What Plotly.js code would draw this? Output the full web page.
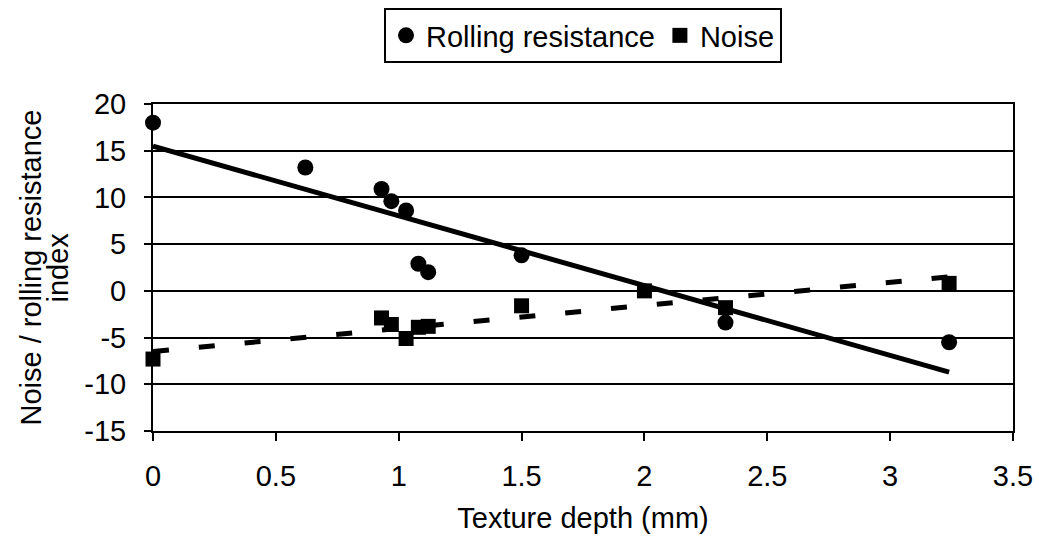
<!DOCTYPE html>
<html>
<head>
<meta charset="utf-8">
<script src="https://cdn.plot.ly/plotly-3.0.1.min.js"></script>
<style>html,body{margin:0;padding:0;background:#fff;}#chart{width:1039px;height:538px;}</style>
</head>
<body>
<div id="chart"></div>
<script>
// Texture depth (mm)
const rollingX = [0, 0.62, 0.93, 0.97, 1.03, 1.08, 1.12, 1.5, 2.33, 3.24];
const rollingY = [18, 13.2, 10.9, 9.6, 8.6, 2.9, 2.0, 3.8, -3.4, -5.5];
const noiseX = [0, 0.93, 0.97, 1.03, 1.08, 1.12, 1.5, 2.0, 2.33, 3.24];
const noiseY = [-7.3, -2.9, -3.6, -5.1, -3.9, -3.8, -1.6, 0.0, -1.8, 0.8];
// trend line end values
const trendX = [0, 3.24];
const rollingTrend = [15.5, -8.7];
const noiseTrend = [-6.5, 1.5];
const xTicks = [0, 0.5, 1, 1.5, 2, 2.5, 3, 3.5];
const xTickText = ['0', '0.5', '1', '1.5', '2', '2.5', '3', '3.5'];
const yTicks = [-15, -10, -5, 0, 5, 10, 15, 20];
const yTickText = ['-15', '-10', '-5', '0', '5', '10', '15', '20'];
const yTitleLines = ['Noise / rolling resistance', 'index'];

const font = 'Liberation Sans, Arial, sans-serif';
const fs = 29;
const traces = [
  {x: trendX, y: rollingTrend, mode: 'lines', line: {color: '#000', width: 5}, showlegend: false, hoverinfo: 'skip'},
  {x: trendX, y: noiseTrend, mode: 'lines', line: {color: '#000', width: 5, dash: '16px,30px'}, showlegend: false, hoverinfo: 'skip'},
  {x: rollingX, y: rollingY, mode: 'markers', name: 'Rolling resistance', cliponaxis: false,
   marker: {symbol: 'circle', size: 16, color: '#000'}},
  {x: noiseX, y: noiseY, mode: 'markers', name: 'Noise', cliponaxis: false,
   marker: {symbol: 'square', size: 15, color: '#000'}}
];
const layout = {
  width: 1039, height: 538,
  margin: {l: 153, r: 26, t: 104, b: 107, autoexpand: false},
  paper_bgcolor: '#fff', plot_bgcolor: '#fff',
  font: {family: font, size: fs, color: '#000'},
  showlegend: true,
  legend: {orientation: 'h', x: 0.5, xanchor: 'center', yref: 'container', y: 1 - 8 / 538, yanchor: 'top',
    bordercolor: '#000', borderwidth: 2, font: {family: font, size: 29, color: '#000'},
    itemwidth: 30, tracegroupgap: 0},
  xaxis: {range: [0, 3.5], tickvals: xTicks, ticktext: xTickText, showgrid: false, zeroline: false,
    showline: true, linecolor: '#000', linewidth: 2, mirror: true, ticks: 'outside', ticklen: 8, tickcolor: '#000', tickwidth: 2,
    tickfont: {family: font, size: fs, color: '#000'}, ticklabelstandoff: 10, automargin: false,
    title: {text: 'Texture depth (mm)', font: {family: font, size: fs, color: '#000'}, standoff: 17}},
  yaxis: {range: [-15, 20], tickvals: yTicks, ticktext: yTickText, showgrid: true, gridcolor: '#000', gridwidth: 2, zeroline: false,
    showline: true, linecolor: '#000', linewidth: 2, mirror: true, ticks: 'outside', ticklen: 7, tickcolor: '#000', tickwidth: 2,
    tickfont: {family: font, size: fs, color: '#000'}, ticklabelstandoff: 12, automargin: false},
  annotations: [
    {text: yTitleLines[0], xref: 'paper', yref: 'paper', x: (30 - 153) / 860, y: 0.5, xanchor: 'center', yanchor: 'middle',
     textangle: -90, showarrow: false, font: {family: font, size: fs, color: '#000'}},
    {text: yTitleLines[1], xref: 'paper', yref: 'paper', x: (57 - 153) / 860, y: 0.5, xanchor: 'center', yanchor: 'middle',
     textangle: -90, showarrow: false, font: {family: font, size: fs, color: '#000'}}
  ]
};
Plotly.newPlot('chart', traces, layout, {displayModeBar: false, staticPlot: true});
</script>
</body>
</html>
